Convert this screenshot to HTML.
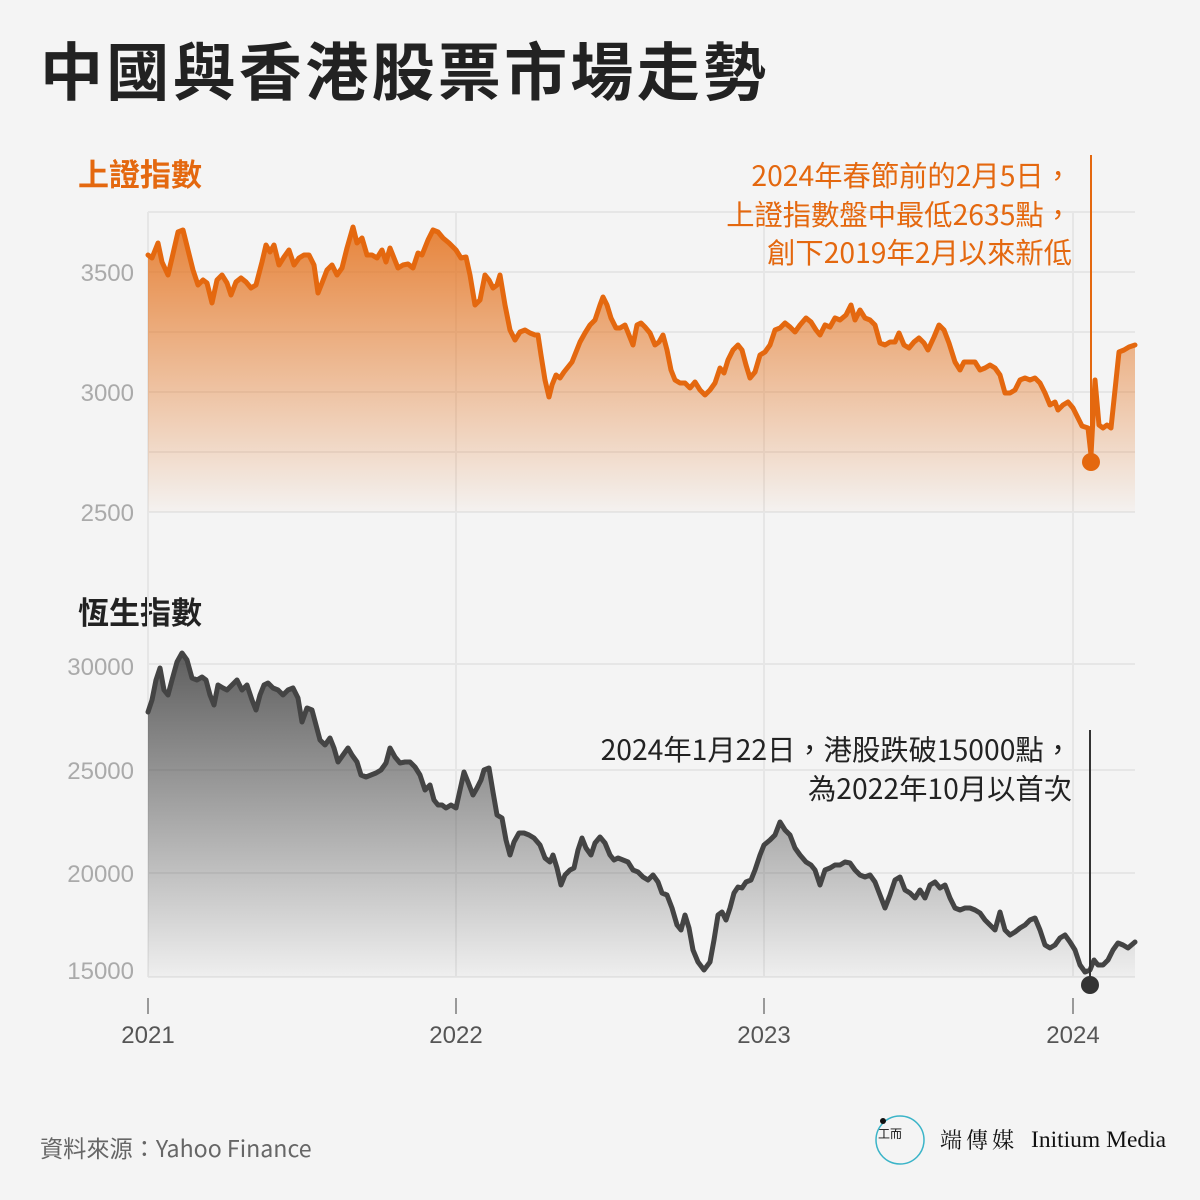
<!DOCTYPE html>
<html><head><meta charset="utf-8"><style>
body{margin:0;background:#f4f4f4;}
svg{display:block;font-family:"Liberation Sans","Noto Sans CJK TC",sans-serif;}
</style></head><body>
<svg width="1200" height="1200" viewBox="0 0 1200 1200">
<defs>
<linearGradient id="go" x1="0" y1="0" x2="0" y2="1">
<stop offset="0" stop-color="#e4701a" stop-opacity="0.85"/>
<stop offset="1" stop-color="#e4701a" stop-opacity="0.02"/>
</linearGradient>
<linearGradient id="gg" x1="0" y1="0" x2="0" y2="1">
<stop offset="0" stop-color="#444" stop-opacity="0.85"/>
<stop offset="1" stop-color="#444" stop-opacity="0.03"/>
</linearGradient>
</defs>
<rect width="1200" height="1200" fill="#f4f4f4"/>
<text x="40" y="95" font-size="63" font-weight="bold" fill="#222" letter-spacing="3.3" font-family="'Noto Sans CJK TC',sans-serif">中國與香港股票市場走勢</text>
<text x="78" y="186" font-size="31" font-weight="bold" fill="#e4680f" font-family="'Noto Sans CJK TC',sans-serif">上證指數</text>
<text x="78" y="624" font-size="31" font-weight="bold" fill="#222" font-family="'Noto Sans CJK TC',sans-serif">恆生指數</text>
<g stroke="#e6e6e6" stroke-width="2">
<line x1="148" y1="212" x2="1135" y2="212"/><line x1="148" y1="272" x2="1135" y2="272"/><line x1="148" y1="332" x2="1135" y2="332"/><line x1="148" y1="392" x2="1135" y2="392"/><line x1="148" y1="452" x2="1135" y2="452"/><line x1="148" y1="512" x2="1135" y2="512"/>
<line x1="148" y1="664" x2="1135" y2="664"/><line x1="148" y1="770" x2="1135" y2="770"/><line x1="148" y1="873" x2="1135" y2="873"/><line x1="148" y1="977" x2="1135" y2="977"/>
<line x1="148" y1="212" x2="148" y2="977"/><line x1="456" y1="212" x2="456" y2="977"/><line x1="764" y1="212" x2="764" y2="977"/><line x1="1073" y1="212" x2="1073" y2="977"/>
</g>
<g font-size="24" fill="#aaa" text-anchor="end">
<text x="134" y="281">3500</text><text x="134" y="401">3000</text><text x="134" y="521">2500</text>
<text x="134" y="675">30000</text><text x="134" y="779">25000</text><text x="134" y="882">20000</text><text x="134" y="979">15000</text>
</g>
<g stroke="#999" stroke-width="2"><line x1="148" y1="998" x2="148" y2="1014"/><line x1="456" y1="998" x2="456" y2="1014"/><line x1="764" y1="998" x2="764" y2="1014"/><line x1="1073" y1="998" x2="1073" y2="1014"/></g>
<g font-size="24" fill="#555" text-anchor="middle"><text x="148" y="1043">2021</text><text x="456" y="1043">2022</text><text x="764" y="1043">2023</text><text x="1073" y="1043">2024</text></g>
<polygon fill="url(#go)" points="148,512 148,255 152,258 158,243 162,262 168,275 172,258 178,232 183,230 188,250 193,270 198,285 203,280 207,283 212,303 217,280 222,275 227,283 231,295 236,282 241,278 246,282 251,288 256,285 262,262 266,245 270,252 274,245 279,265 284,257 289,250 294,265 299,258 304,255 309,255 314,265 318,293 322,283 327,270 332,265 337,275 342,268 347,248 353,227 357,243 362,238 367,255 372,255 377,258 382,250 386,262 390,248 394,258 398,268 403,265 408,264 413,268 418,253 422,255 428,240 433,230 438,232 443,238 449,243 456,250 461,258 466,257 470,275 475,305 480,300 485,275 489,280 493,288 497,285 500,275 505,305 510,330 515,340 520,332 525,330 530,333 535,335 538,335 541,355 545,380 549,397 552,385 556,375 560,378 564,372 568,367 572,362 576,352 580,342 585,333 590,325 595,320 600,305 603,297 607,305 611,318 616,328 620,328 625,325 629,335 633,345 637,325 641,323 645,327 650,333 655,345 659,342 663,335 667,350 671,370 675,380 680,383 685,383 690,388 695,382 700,390 705,395 710,390 715,383 720,368 724,373 728,360 733,350 738,345 742,350 746,365 750,378 755,372 760,355 765,352 770,345 775,330 780,328 785,323 790,327 795,332 800,325 806,318 811,322 816,330 820,335 825,325 830,327 835,318 840,320 846,315 851,305 855,320 860,310 865,318 870,320 875,325 880,343 885,345 890,342 895,342 899,333 904,345 909,348 914,342 919,338 924,343 928,350 934,337 939,325 944,330 949,343 955,362 960,370 964,362 970,362 975,362 980,370 985,368 990,365 995,368 1000,375 1005,393 1010,393 1015,390 1020,380 1025,378 1030,380 1035,378 1040,383 1045,393 1050,405 1055,402 1058,410 1063,405 1068,402 1073,408 1078,418 1082,426 1088,428 1091,455 1095,380 1099,425 1103,428 1107,425 1111,428 1115,390 1119,352 1124,350 1129,347 1135,345 1135,512"/>
<polyline fill="none" stroke="#e4680f" stroke-width="5" stroke-linejoin="round" stroke-linecap="round" points="148,255 152,258 158,243 162,262 168,275 172,258 178,232 183,230 188,250 193,270 198,285 203,280 207,283 212,303 217,280 222,275 227,283 231,295 236,282 241,278 246,282 251,288 256,285 262,262 266,245 270,252 274,245 279,265 284,257 289,250 294,265 299,258 304,255 309,255 314,265 318,293 322,283 327,270 332,265 337,275 342,268 347,248 353,227 357,243 362,238 367,255 372,255 377,258 382,250 386,262 390,248 394,258 398,268 403,265 408,264 413,268 418,253 422,255 428,240 433,230 438,232 443,238 449,243 456,250 461,258 466,257 470,275 475,305 480,300 485,275 489,280 493,288 497,285 500,275 505,305 510,330 515,340 520,332 525,330 530,333 535,335 538,335 541,355 545,380 549,397 552,385 556,375 560,378 564,372 568,367 572,362 576,352 580,342 585,333 590,325 595,320 600,305 603,297 607,305 611,318 616,328 620,328 625,325 629,335 633,345 637,325 641,323 645,327 650,333 655,345 659,342 663,335 667,350 671,370 675,380 680,383 685,383 690,388 695,382 700,390 705,395 710,390 715,383 720,368 724,373 728,360 733,350 738,345 742,350 746,365 750,378 755,372 760,355 765,352 770,345 775,330 780,328 785,323 790,327 795,332 800,325 806,318 811,322 816,330 820,335 825,325 830,327 835,318 840,320 846,315 851,305 855,320 860,310 865,318 870,320 875,325 880,343 885,345 890,342 895,342 899,333 904,345 909,348 914,342 919,338 924,343 928,350 934,337 939,325 944,330 949,343 955,362 960,370 964,362 970,362 975,362 980,370 985,368 990,365 995,368 1000,375 1005,393 1010,393 1015,390 1020,380 1025,378 1030,380 1035,378 1040,383 1045,393 1050,405 1055,402 1058,410 1063,405 1068,402 1073,408 1078,418 1082,426 1088,428 1091,455 1095,380 1099,425 1103,428 1107,425 1111,428 1115,390 1119,352 1124,350 1129,347 1135,345"/>
<polygon fill="url(#gg)" points="148,977 148,712 152,700 156,680 160,668 164,690 168,695 172,680 177,662 182,653 187,660 192,678 197,680 202,677 206,680 210,695 214,705 218,685 223,688 227,690 232,685 237,680 242,690 247,685 252,700 256,710 260,695 264,685 268,683 273,688 278,690 283,695 288,690 293,688 298,698 302,722 307,708 312,710 316,725 320,740 325,745 330,738 334,748 338,762 343,755 348,748 352,755 357,762 361,775 366,777 371,775 376,773 381,770 386,763 390,748 395,757 400,763 405,762 410,762 415,767 420,775 425,790 430,785 434,800 438,805 442,805 446,808 451,805 456,808 460,790 464,772 468,782 473,795 477,788 481,780 484,770 489,768 493,792 497,815 502,818 506,840 510,855 514,842 519,833 524,833 529,835 534,838 540,845 545,858 550,862 553,855 557,868 561,885 565,875 570,870 574,868 578,850 582,838 586,848 591,855 595,843 600,837 605,843 610,855 614,860 618,858 623,860 628,862 633,870 638,872 643,877 648,880 653,875 658,882 662,893 667,895 672,908 677,925 681,930 685,915 689,928 693,950 698,962 704,970 710,962 714,940 718,915 722,912 726,920 730,908 734,893 738,887 742,888 746,882 751,880 755,870 760,855 764,845 770,840 775,835 780,822 785,830 790,835 795,848 800,855 806,862 811,865 815,870 820,885 825,870 830,868 835,865 840,865 845,862 850,863 855,870 860,875 865,877 870,875 875,882 880,895 885,908 890,895 895,880 900,877 905,890 910,893 915,898 920,890 925,898 930,885 935,882 940,888 945,885 950,898 955,908 960,910 965,908 970,908 975,910 980,913 985,920 990,925 995,930 1000,912 1005,930 1010,935 1015,932 1020,928 1025,925 1030,920 1035,918 1040,930 1045,945 1050,948 1055,945 1060,938 1065,935 1070,942 1075,950 1080,965 1085,972 1090,970 1094,960 1098,965 1103,965 1108,960 1113,950 1118,943 1123,945 1128,948 1135,942 1135,977"/>
<polyline fill="none" stroke="#444" stroke-width="5" stroke-linejoin="round" stroke-linecap="round" points="148,712 152,700 156,680 160,668 164,690 168,695 172,680 177,662 182,653 187,660 192,678 197,680 202,677 206,680 210,695 214,705 218,685 223,688 227,690 232,685 237,680 242,690 247,685 252,700 256,710 260,695 264,685 268,683 273,688 278,690 283,695 288,690 293,688 298,698 302,722 307,708 312,710 316,725 320,740 325,745 330,738 334,748 338,762 343,755 348,748 352,755 357,762 361,775 366,777 371,775 376,773 381,770 386,763 390,748 395,757 400,763 405,762 410,762 415,767 420,775 425,790 430,785 434,800 438,805 442,805 446,808 451,805 456,808 460,790 464,772 468,782 473,795 477,788 481,780 484,770 489,768 493,792 497,815 502,818 506,840 510,855 514,842 519,833 524,833 529,835 534,838 540,845 545,858 550,862 553,855 557,868 561,885 565,875 570,870 574,868 578,850 582,838 586,848 591,855 595,843 600,837 605,843 610,855 614,860 618,858 623,860 628,862 633,870 638,872 643,877 648,880 653,875 658,882 662,893 667,895 672,908 677,925 681,930 685,915 689,928 693,950 698,962 704,970 710,962 714,940 718,915 722,912 726,920 730,908 734,893 738,887 742,888 746,882 751,880 755,870 760,855 764,845 770,840 775,835 780,822 785,830 790,835 795,848 800,855 806,862 811,865 815,870 820,885 825,870 830,868 835,865 840,865 845,862 850,863 855,870 860,875 865,877 870,875 875,882 880,895 885,908 890,895 895,880 900,877 905,890 910,893 915,898 920,890 925,898 930,885 935,882 940,888 945,885 950,898 955,908 960,910 965,908 970,908 975,910 980,913 985,920 990,925 995,930 1000,912 1005,930 1010,935 1015,932 1020,928 1025,925 1030,920 1035,918 1040,930 1045,945 1050,948 1055,945 1060,938 1065,935 1070,942 1075,950 1080,965 1085,972 1090,970 1094,960 1098,965 1103,965 1108,960 1113,950 1118,943 1123,945 1128,948 1135,942"/>
<line x1="1091" y1="155" x2="1091" y2="462" stroke="#e4680f" stroke-width="2"/>
<circle cx="1091" cy="462" r="9" fill="#e4680f"/>
<line x1="1090" y1="730" x2="1090" y2="985" stroke="#333" stroke-width="2"/>
<circle cx="1090" cy="985" r="9" fill="#333"/>
<g font-size="28.3" fill="#e4680f" text-anchor="end" font-family="'Noto Sans CJK TC',sans-serif">
<text x="1072" y="186">2024年春節前的2月5日，</text>
<text x="1072" y="225">上證指數盤中最低2635點，</text>
<text x="1072" y="263">創下2019年2月以來新低</text>
</g>
<g font-size="28.3" fill="#222" text-anchor="end" font-family="'Noto Sans CJK TC',sans-serif">
<text x="1072" y="760">2024年1月22日，港股跌破15000點，</text>
<text x="1072" y="799">為2022年10月以首次</text>
</g>
<text x="40" y="1157" font-size="23.2" fill="#666" font-family="'Noto Sans CJK TC',sans-serif">資料來源：Yahoo Finance</text>
<circle cx="900" cy="1140" r="24" fill="none" stroke="#3ab4c8" stroke-width="1.5"/>
<circle cx="883" cy="1121" r="3" fill="#111"/>
<text x="878" y="1138" font-size="12" fill="#111" font-family="'Noto Sans CJK TC',sans-serif">工而</text>
<text x="940" y="1148" font-size="22" fill="#111" font-family="'Noto Serif CJK SC',serif" letter-spacing="4">端傳媒</text>
<text x="1031" y="1147" font-size="23.5" fill="#111" font-family="'Liberation Serif',serif">Initium Media</text>
</svg>
</body></html>
